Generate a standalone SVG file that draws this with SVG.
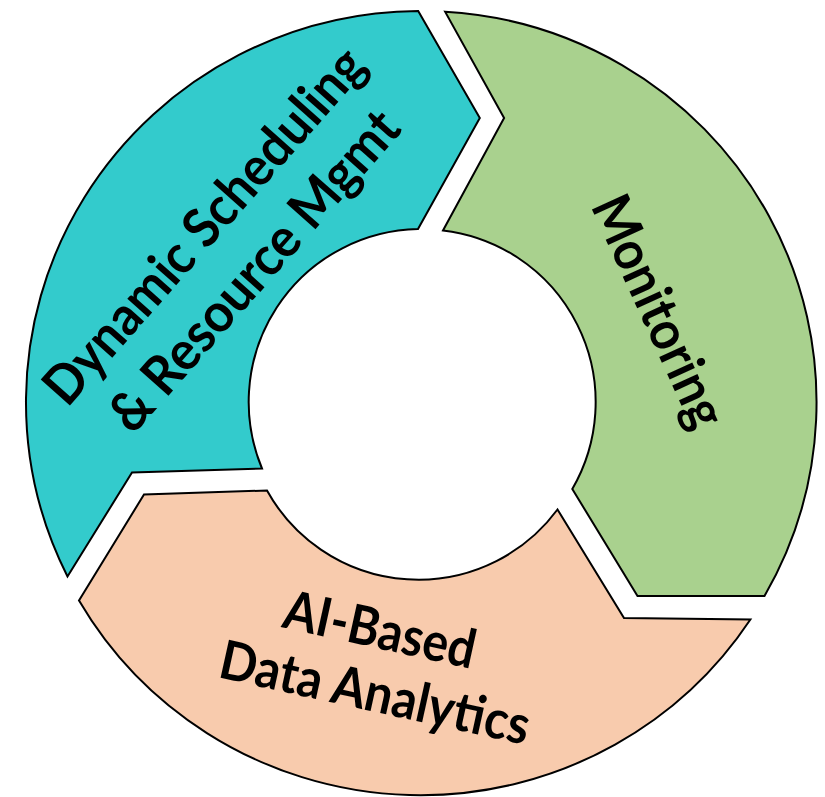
<svg xmlns="http://www.w3.org/2000/svg" width="825" height="797" viewBox="0 0 825 797">
  <style>
    .seg { stroke: #000; stroke-width: 2; stroke-linejoin: miter; }
    .lbl { font-family: "Lato", "Liberation Sans", sans-serif; font-weight: 700; font-size: 54px; fill: #000; text-anchor: middle; }
  </style>
  <rect width="825" height="797" fill="#fff"/>
  <g id="node-scheduling">
    <path class="seg" fill="#33CBCC" d="M 67.5,576.5 A 395 391 0 0 1 418.2,11 L 479.8,118 L 418,229 A 173 173 0 0 0 262,468.5 L 132,472.5 Z"/>
    <text class="lbl" transform="translate(218,238) rotate(-48.5)" textLength="455" lengthAdjust="spacingAndGlyphs">Dynamic Scheduling</text>
    <text class="lbl" transform="translate(268,283) rotate(-48.5)" textLength="408" lengthAdjust="spacingAndGlyphs">&amp; Resource Mgmt</text>
  </g>
  <g id="node-monitoring">
    <path class="seg" fill="#A9D18E" d="M 445.1,11.7 A 395 391 0 0 1 764.5,596 L 637.5,596 L 572.3,489 A 173 173 0 0 0 443,230.4 L 504.1,117.9 Z"/>
    <text class="lbl" transform="translate(642,319) rotate(65.5)" textLength="249" lengthAdjust="spacingAndGlyphs">Monitoring</text>
  </g>
  <g id="node-analytics">
    <path class="seg" fill="#F8CBAD" d="M 750.4,619.5 A 395 391 0 0 1 79,600.5 L 144,494.5 L 267,490.5 A 173 173 0 0 0 557.5,509.5 L 624,618 Z"/>
    <text class="lbl" transform="translate(376,648) rotate(12.4)" textLength="195" lengthAdjust="spacingAndGlyphs">AI-Based</text>
    <text class="lbl" transform="translate(371,711) rotate(12.4)" textLength="316" lengthAdjust="spacingAndGlyphs">Data Analytics</text>
  </g>
  <g id="connectors"></g>
</svg>
